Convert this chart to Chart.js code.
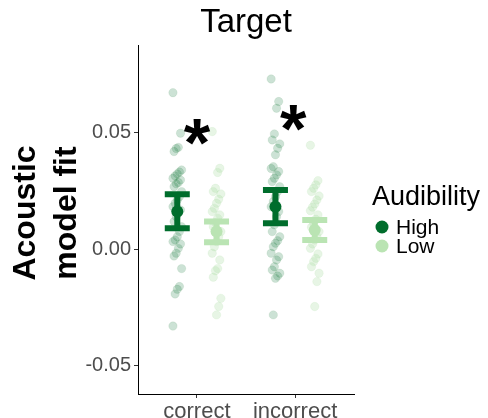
<!DOCTYPE html>
<html><head><meta charset="utf-8">
<script src="https://cdn.jsdelivr.net/npm/chart.js@4"></script>
<style>html,body{margin:0;padding:0;overflow:hidden;background:#fff}</style>
</head>
<body>
<canvas id="c" width="488" height="432" style="display:block;width:488px;height:432px"></canvas>
<script>
// ---------- data ----------
const categories = ['correct', 'incorrect'];
const groups = ['High', 'Low'];
const yTicks = [-0.05, 0, 0.05];
const chartTitle = 'Target';
const yTitle = ['Acoustic', 'model fit'];
const legendTitle = 'Audibility';

const highCorrect = [0.0673,0.0499,0.0438,0.0433,0.0420,0.0341,0.0332,0.0324,0.0315,0.0305,0.0298,0.0287,0.0281,0.0269,0.0248,0.0226,0.0212,0.0198,0.0183,0.0169,0.0155,0.0140,0.0119,0.0097,0.0076,0.0054,0.0040,0.0033,0.0023,0.0004,-0.0017,-0.0029,-0.0083,-0.0160,-0.0172,-0.0192,-0.0330];
const lowCorrect = [0.0506,0.0348,0.0330,0.0262,0.0248,0.0238,0.0215,0.0198,0.0176,0.0162,0.0148,0.0133,0.0115,0.0097,0.0076,0.0054,0.0033,0.0011,-0.0017,-0.0046,-0.0083,-0.0092,-0.0120,-0.0211,-0.0246,-0.0282];
const highIncorrect = [0.0732,0.0635,0.0606,0.0496,0.0470,0.0453,0.0434,0.0406,0.0355,0.0347,0.0334,0.0320,0.0305,0.0291,0.0269,0.0248,0.0226,0.0205,0.0183,0.0162,0.0140,0.0105,0.0076,0.0054,0.0037,0.0026,0.0011,-0.0017,-0.0032,-0.0046,-0.0075,-0.0089,-0.0103,-0.0115,-0.0125,-0.0282];
const lowIncorrect = [0.0447,0.0295,0.0277,0.0262,0.0248,0.0229,0.0212,0.0195,0.0181,0.0166,0.0148,0.0129,0.0112,0.0095,0.0076,0.0054,0.0040,0.0023,0.0004,-0.0020,-0.0039,-0.0053,-0.0075,-0.0103,-0.0139,-0.0246];

const meanHigh = [0.0162, 0.0183];
const lowerHigh = [0.0090, 0.0112];
const upperHigh = [0.0236, 0.0255];
const meanLow = [0.0076, 0.0083];
const lowerLow = [0.0030, 0.0040];
const upperLow = [0.0119, 0.0126];

const starLabels = ['*', '*'];
const starX = [1.0, 1.98];
const starY = [0.0493, 0.0556];

// ---------- styling ----------
const DARK = '#006d2c';
const LIGHT = '#bae4b3';
const FONT = "'Liberation Sans', Arial, sans-serif";
const DODGE = 0.2;

function jit(i) { return (((i * 7) % 9) - 4) * 0.011; }
function pts(vals, cat, off) { return vals.map((v, i) => ({x: cat + 1 + off + jit(i), y: v})); }

const errorBars = {
  id: 'errorBars',
  beforeDatasetDraw(chart, args) {
    const ds = chart.data.datasets[args.index];
    if (!ds.errLo) return;
    const {ctx, scales: {x, y}} = chart;
    ctx.save();
    ctx.strokeStyle = ds.backgroundColor;
    ctx.lineWidth = 6;
    ctx.lineCap = 'butt';
    ds.data.forEach((p, i) => {
      const px = x.getPixelForValue(p.x);
      const lo = y.getPixelForValue(ds.errLo[i]);
      const hi = y.getPixelForValue(ds.errHi[i]);
      ctx.beginPath();
      ctx.moveTo(px, lo); ctx.lineTo(px, hi);
      ctx.moveTo(px - 12.5, lo); ctx.lineTo(px + 12.5, lo);
      ctx.moveTo(px - 12.5, hi); ctx.lineTo(px + 12.5, hi);
      ctx.stroke();
    });
    ctx.restore();
  }
};

const texts = {
  id: 'texts',
  afterDatasetsDraw(chart) {
    const {ctx, chartArea, scales: {x, y}} = chart;
    ctx.save();
    ctx.fillStyle = '#000';
    // asterisks
    ctx.font = 'bold 68px ' + FONT;
    ctx.textAlign = 'center';
    ctx.textBaseline = 'alphabetic';
    starLabels.forEach((s, i) => {
      const px = x.getPixelForValue(starX[i]);
      const py = y.getPixelForValue(starY[i]);
      ctx.fillText(s, px, py + 0.585 * 68 - 8);
    });
    // title
    ctx.font = '33px ' + FONT;
    ctx.textBaseline = 'middle';
    ctx.fillText(chartTitle, (chartArea.left + chartArea.right) / 2, 23);
    // y title
    ctx.save();
    ctx.translate(0, 213);
    ctx.rotate(-Math.PI / 2);
    ctx.font = 'bold 32px ' + FONT;
    ctx.textAlign = 'center';
    yTitle.forEach((t, i) => ctx.fillText(t, 0, 26.5 + i * 41));
    ctx.restore();
    ctx.restore();
  }
};

const legendPlugin = {
  id: 'legendPlugin',
  afterDraw(chart) {
    const ctx = chart.ctx;
    ctx.save();
    ctx.fillStyle = '#000';
    ctx.textAlign = 'left';
    ctx.textBaseline = 'middle';
    ctx.font = '27px ' + FONT;
    ctx.fillText(legendTitle, 372, 198);
    const cols = [DARK, LIGHT];
    groups.forEach((g, i) => {
      const yy = 227 + i * 19;
      ctx.fillStyle = cols[i];
      ctx.beginPath(); ctx.arc(382, yy, 6.5, 0, Math.PI * 2); ctx.fill();
      ctx.fillStyle = '#000';
      ctx.font = '21px ' + FONT;
      ctx.fillText(g, 396, yy + 1);
    });
    ctx.restore();
  }
};

new Chart(document.getElementById('c'), {
  type: 'scatter',
  data: {
    datasets: [
      { label: 'High mean', data: meanHigh.map((v, i) => ({x: i + 1 - DODGE, y: v})),
        errLo: lowerHigh, errHi: upperHigh,
        backgroundColor: DARK, borderColor: DARK, pointRadius: 6, borderWidth: 0 },
      { label: 'Low mean', data: meanLow.map((v, i) => ({x: i + 1 + DODGE, y: v})),
        errLo: lowerLow, errHi: upperLow,
        backgroundColor: LIGHT, borderColor: LIGHT, pointRadius: 6, borderWidth: 0 },
      { label: 'High', data: pts(highCorrect, 0, -DODGE).concat(pts(highIncorrect, 1, -DODGE)),
        backgroundColor: 'rgba(0,109,44,0.2)', borderColor: 'rgba(0,109,44,0.1)', borderWidth: 0.8, pointRadius: 4.2 },
      { label: 'Low', data: pts(lowCorrect, 0, DODGE).concat(pts(lowIncorrect, 1, DODGE)),
        backgroundColor: 'rgba(170,220,160,0.28)', borderColor: 'rgba(170,220,160,0.18)', borderWidth: 0.8, pointRadius: 4.2 }
    ]
  },
  options: {
    responsive: false,
    animation: false,
    devicePixelRatio: 1,
    layout: { padding: { left: 0, right: 134, top: 45, bottom: 0 } },
    plugins: {
      legend: { display: false },
      tooltip: { enabled: false },
      title: { display: false }
    },
    scales: {
      x: {
        type: 'linear', min: 0.4, max: 2.6,
        afterBuildTicks(s) { s.ticks = categories.map((c, i) => ({value: i + 1})); },
        afterFit(s) { s.height = 38; },
        ticks: { callback: (v) => categories[Math.round(v) - 1], color: '#4d4d4d',
          font: { family: FONT, size: 22 }, padding: 1, maxRotation: 0 },
        grid: { display: true, drawOnChartArea: false, drawTicks: true, tickLength: 4, color: '#333' },
        border: { display: true, color: '#000', width: 1 }
      },
      y: {
        min: -0.0622, max: 0.0878,
        afterBuildTicks(s) { s.ticks = yTicks.map(v => ({value: v})); },
        afterFit(s) { s.width = 138; },
        ticks: { callback: (v) => v.toFixed(2), color: '#4d4d4d',
          font: { family: FONT, size: 20 }, padding: 3 },
        grid: { display: true, drawOnChartArea: false, drawTicks: true, tickLength: 4, color: '#333' },
        border: { display: true, color: '#000', width: 1 }
      }
    }
  },
  plugins: [errorBars, texts, legendPlugin]
});
</script>
</body></html>
